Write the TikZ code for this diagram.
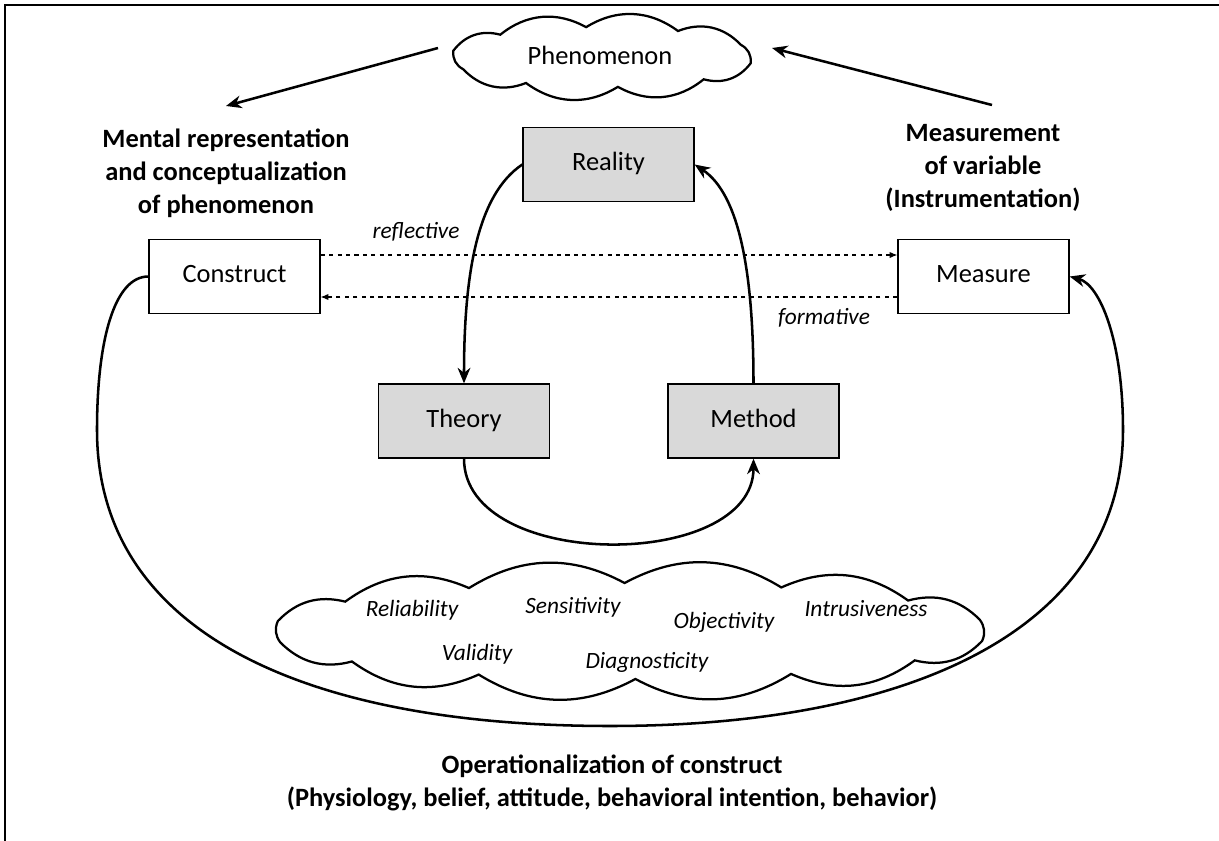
\documentclass[tikz,border=0pt]{standalone}
\usepackage{fontspec}
\setmainfont{Carlito}
\usetikzlibrary{arrows.meta,positioning,calc}

% cloud outline: centre x, centre y, radius x, radius y, number of puffs, bend
\newcommand{\puffcloud}[6]{%
  \draw[puff] ({#1+#3*cos(12)},{#2+#4*sin(12)})
    \foreach \k in {1,...,#5} {
      to[bend left=#6] ({#1+#3*cos(12+360*\k/#5)},{#2+#4*sin(12+360*\k/#5)})
    } -- cycle;}

\begin{document}
\begin{tikzpicture}[
    x=0.025cm, y=-0.025cm,
    font=\fontsize{18.8}{22.6}\selectfont,
    box/.style={rectangle, draw=black, line width=0.9pt, minimum width=4.275cm, minimum height=1.85cm, text height=1.1em, text depth=0.22em},
    core/.style={box, fill=black!15},
    heading/.style={align=center, font=\fontsize{18.8}{23.5}\selectfont\bfseries},
    puff/.style={draw, line width=1.6pt, fill=white},
    quality/.style={font=\fontsize{16.6}{20}\selectfont\itshape},
    flow/.style={-{Stealth[length=11pt, width=9pt, inset=3.5pt]}, line width=1.8pt},
    link/.style={-{Latex[length=5.5pt, width=4.5pt]}, dashed, line width=0.75pt}
]
    \useasboundingbox (0,0) rectangle (1219,841);
    % Frame (top and left only)
    \draw[line width=1.8pt] (5,841) -- (5,5) -- (1219,5);

    % Phenomenon
    \puffcloud{602}{57}{152}{30}{10}{34}
    \node (phen) at (600,55) {Phenomenon};

    % Headings
    \node[heading] (mental) at (226,173) {Mental representation\\and conceptualization\\of phenomenon};
    \node[heading] (instr) at (983,168) {Measurement\\of variable\\(Instrumentation)};
    \node[heading] (oper) at (612,783) {Operationalization of construct\\(Physiology, belief, attitude, behavioral intention, behavior)};

    % Boxes
    \node[box] (construct) at (234.5,276.5) {Construct};
    \node[box] (measure) at (983.5,276.5) {Measure};
    \node[core] (reality) at (608.5,164.5) {Reality};
    \node[core] (theory) at (464,421) {Theory};
    \node[core] (method) at (753.5,421) {Method};

    % Quality criteria
    \puffcloud{630}{631}{360}{48}{14}{30}
    \node[quality] (reliab) at (412,610) {Reliability};
    \node[quality] (sensit) at (573,607) {Sensitivity};
    \node[quality] (object) at (724,622) {Objectivity};
    \node[quality] (intrus) at (866,609) {Intrusiveness};
    \node[quality] (valid) at (477,654) {Validity};
    \node[quality] (diagn) at (647,662) {Diagnosticity};

    % Phenomenon arrows
    \coordinate (phenleft) at (438,48);
    \coordinate (phenright) at (772,48);
    \coordinate (mentaltip) at (226,106);
    \coordinate (instrtail) at (992,105);
    \draw[flow] (phenleft) -- (mentaltip);
    \draw[flow] (instrtail) -- (phenright);

    % Reflective / formative
    \draw[link] ([shift={(0,-21.5)}]construct.east) -- ([shift={(0,-21.5)}]measure.west);
    \draw[link] ([shift={(0,20.5)}]measure.west) -- ([shift={(0,20.5)}]construct.east);
    \node[quality] (refl) at (416,232) {reflective};
    \node[quality] (form) at (824,318) {formative};

    % Research cycle
    \draw[flow] (reality.west) .. controls +(-45,30) and +(0,-110) .. (theory.north);
    \draw[flow] (theory.south) to[out=-90, in=-90] (method.south);
    \draw[flow] (method.north) .. controls +(0,-110) and +(45,30) .. (reality.east);

    % Operationalization
    \coordinate (lbend) at (97,430);
    \coordinate (abottom) at (610,726);
    \coordinate (rbend) at (1123,430);
    \draw[flow] (construct.west) .. controls +(-34,0) and +(0,-90) .. (lbend)
        .. controls +(0,200) and +(-310,0) .. (abottom)
        .. controls +(300,0) and +(0,200) .. (rbend)
        .. controls +(0,-90) and +(30,8) .. (measure.east);
\end{tikzpicture}
\end{document}
